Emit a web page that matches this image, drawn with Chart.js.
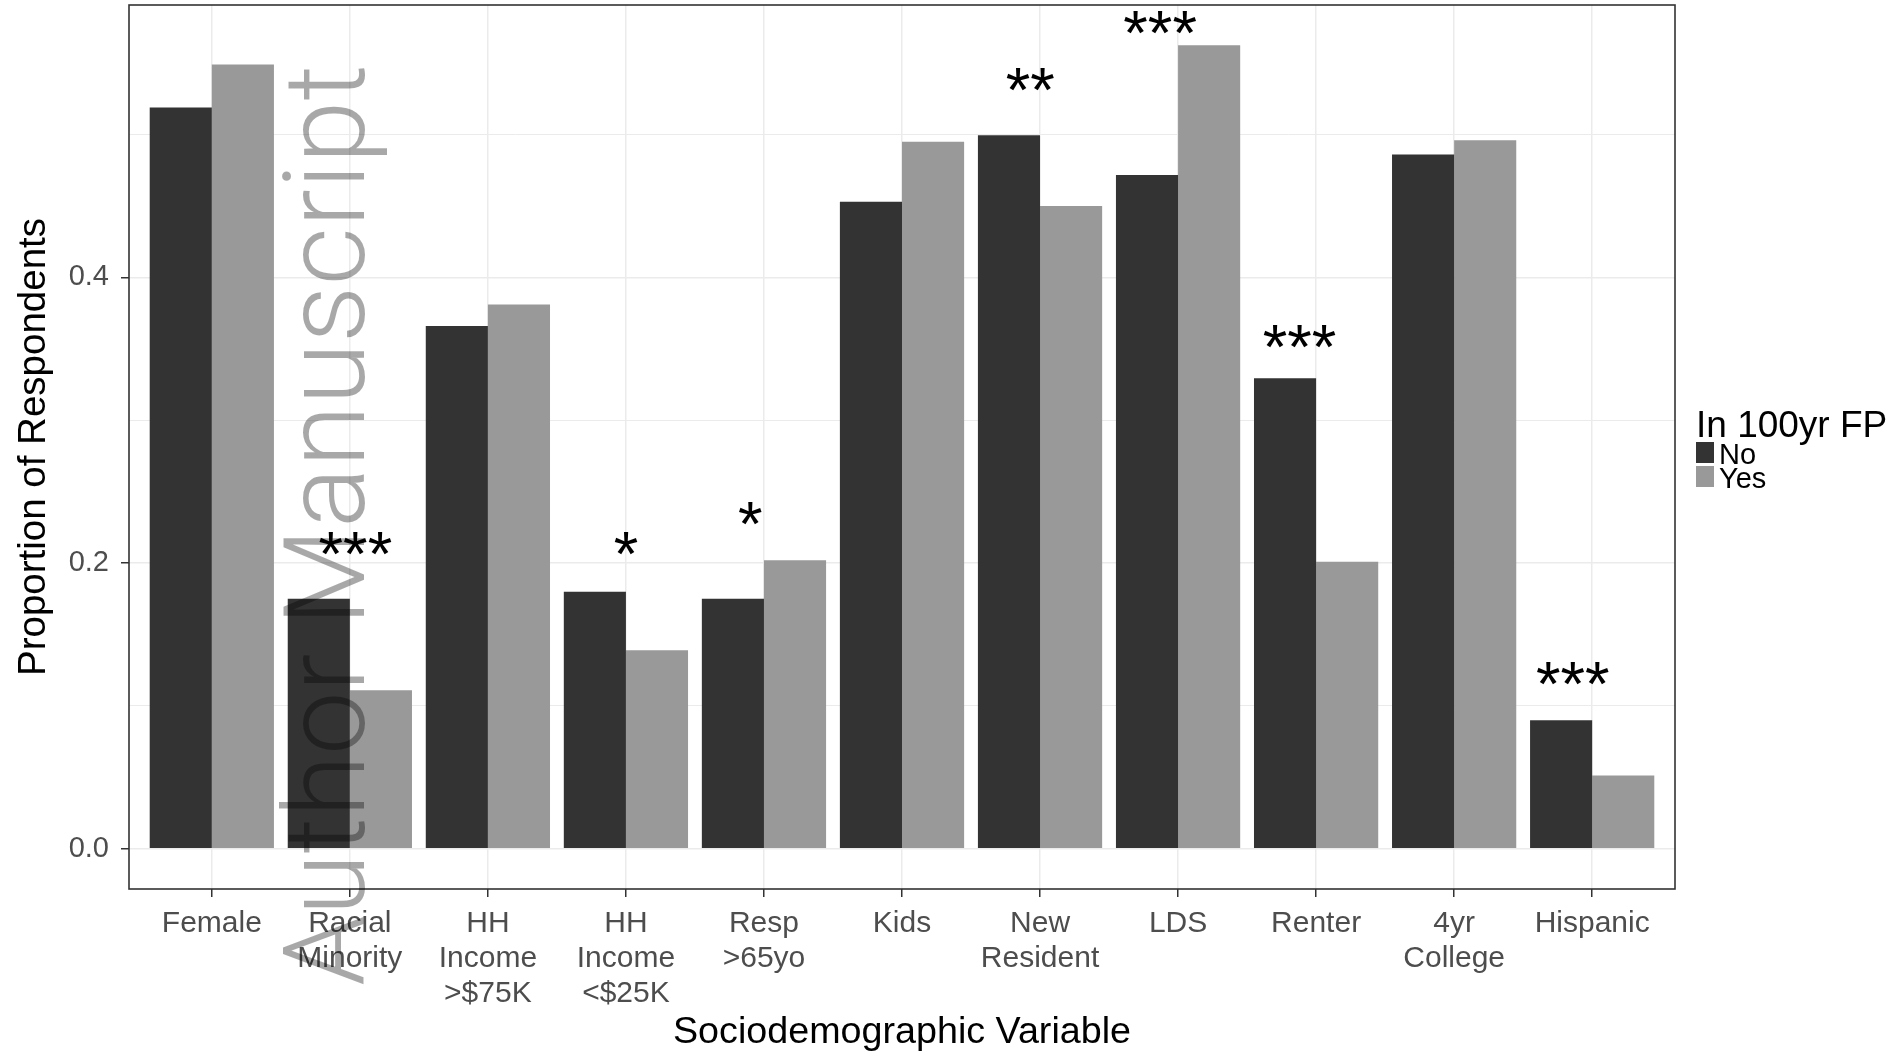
<!DOCTYPE html>
<html>
<head>
<meta charset="utf-8">
<script src="https://cdn.jsdelivr.net/npm/chart.js@4.4.1/dist/chart.umd.min.js"></script>
<style>
  html, body { margin: 0; padding: 0; background: #fff; overflow: hidden; }
  #wrap { width: 1903px; height: 1057px; position: relative; }
</style>
</head>
<body>
<div id="wrap"><canvas id="c"></canvas></div>
<script>
// Share of respondents with each attribute, split by 100-year floodplain residence
const categories = [
  ['Female'], ['Racial', 'Minority'], ['HH', 'Income', '>$75K'], ['HH', 'Income', '<$25K'],
  ['Resp', '>65yo'], ['Kids'], ['New', 'Resident'], ['LDS'], ['Renter'], ['4yr', 'College'], ['Hispanic']
];
const noValues  = [0.519, 0.175, 0.366, 0.180, 0.175, 0.453, 0.4995, 0.4717, 0.3295, 0.486, 0.090];
const yesValues = [0.549, 0.111, 0.381, 0.139, 0.202, 0.495, 0.450, 0.5626, 0.201, 0.496, 0.0514];
// Significance markers and where each is placed (category units, proportion)
const sigLabels = ['', '***', '', '*', '*', '', '**', '***', '***', '', '***'];
const sigX      = [null, 2.04, null, 4.0, 4.90, null, 6.93, 7.87, 8.88, null, 10.86];
const sigY      = [null, 0.214, null, 0.214, 0.235, null, 0.5385, 0.5785, 0.359, null, 0.123];
const seriesNames = ['No', 'Yes'];
const legendTitle = 'In 100yr FP';
const yGridValues = [0, 0.1, 0.2, 0.3, 0.4, 0.5];
const yLabelValues = [0, 0.2, 0.4];
const xTitle = 'Sociodemographic Variable';
const yTitle = 'Proportion of Respondents';
const watermark = 'Author Manuscript';

const FONT = '"Liberation Sans", Arial, Helvetica, sans-serif';
const maxVal = Math.max(...noValues, ...yesValues);
const isLabelled = v => yLabelValues.some(l => Math.abs(l - v) < 1e-9);

const overlay = {
  id: 'overlay',
  afterDatasetsDraw(chart) {
    const { ctx, chartArea: a, scales: { x, y } } = chart;
    ctx.save();
    // significance stars
    ctx.font = '63px ' + FONT;
    ctx.fillStyle = '#000';
    ctx.textAlign = 'center';
    ctx.textBaseline = 'alphabetic';
    sigLabels.forEach((s, i) => {
      if (!s) return;
      const m = ctx.measureText(s);
      const off = (m.actualBoundingBoxAscent - m.actualBoundingBoxDescent) / 2;
      ctx.fillText(s, x.getPixelForValue(sigX[i]), y.getPixelForValue(sigY[i]) + off);
    });
    // panel border
    ctx.strokeStyle = '#333333';
    ctx.lineWidth = 1.6;
    ctx.strokeRect(a.left, a.top, a.right - a.left, a.bottom - a.top);
    ctx.restore();
  },
  afterDraw(chart) {
    const { ctx, chartArea: a } = chart;
    ctx.save();
    // legend
    const lx = a.right + 21;
    ctx.textAlign = 'left';
    ctx.textBaseline = 'alphabetic';
    ctx.fillStyle = '#000';
    ctx.font = '37px ' + FONT;
    ctx.fillText(legendTitle, lx, 437);
    chart.data.datasets.forEach((ds, i) => {
      ctx.fillStyle = ds.backgroundColor;
      ctx.fillRect(lx, 442 + i * 24, 18, 21);
      ctx.fillStyle = '#000';
      ctx.font = '29px ' + FONT;
      ctx.fillText(ds.label, lx + 23, 464 + i * 24);
    });
    // rotated watermark
    ctx.translate(364, 986);
    ctx.rotate(-Math.PI / 2);
    let size = 120;
    ctx.font = '300 ' + size + 'px Roboto, "Liberation Sans", sans-serif';
    const w = ctx.measureText(watermark).width;
    size = size * 922 / w;
    ctx.font = '300 ' + size.toFixed(1) + 'px Roboto, "Liberation Sans", sans-serif';
    ctx.fillStyle = 'rgba(0,0,0,0.34)';
    ctx.fillText(watermark, 0, 0);
    ctx.restore();
  }
};

new Chart(document.getElementById('c'), {
  type: 'bar',
  data: {
    datasets: [
      { label: seriesNames[0], data: noValues.map((v, i) => ({ x: i + 1, y: v })), backgroundColor: '#333333' },
      { label: seriesNames[1], data: yesValues.map((v, i) => ({ x: i + 1, y: v })), backgroundColor: '#999999' }
    ]
  },
  options: {
    responsive: true,
    maintainAspectRatio: false,
    animation: false,
    events: [],
    layout: { padding: { top: 5, right: 228, left: 0, bottom: 0 } },
    datasets: { bar: { categoryPercentage: 0.9, barPercentage: 1.0, borderWidth: 0 } },
    plugins: { legend: { display: false }, tooltip: { enabled: false } },
    scales: {
      x: {
        type: 'linear',
        offset: false,
        min: 0.4,
        max: 11.6,
        afterBuildTicks: s => { s.ticks = categories.map((c, i) => ({ value: i + 1 })); },
        afterFit: s => { s.height = 168; s.paddingLeft = 0; s.paddingRight = 0; },
        border: { display: false },
        grid: { offset: false, color: '#ebebeb', lineWidth: 1.5, drawTicks: true, tickLength: 8, tickColor: '#333333', tickWidth: 1.5 },
        ticks: {
          autoSkip: false, maxRotation: 0, padding: 9,
          color: '#4d4d4d',
          font: { family: FONT, size: 30, lineHeight: 1.17 },
          callback: v => categories[Math.round(v) - 1]
        },
        title: { display: true, text: xTitle, color: '#000', font: { family: FONT, size: 37.7, lineHeight: 1.2 }, padding: { top: 0, bottom: 2 } }
      },
      y: {
        min: -0.05 * maxVal,
        max: 1.05 * maxVal,
        afterBuildTicks: s => { s.ticks = yGridValues.map(v => ({ value: v })); },
        afterFit: s => { s.width = 129; s.paddingTop = 0; s.paddingBottom = 0; },
        border: { display: false },
        grid: {
          color: '#ebebeb',
          lineWidth: c => (c.tick && isLabelled(c.tick.value)) ? 1.5 : 1,
          drawTicks: true, tickLength: 8,
          tickColor: c => (c.tick && isLabelled(c.tick.value)) ? '#333333' : 'rgba(0,0,0,0)',
          tickWidth: 1.5
        },
        ticks: {
          padding: 12,
          color: '#4d4d4d',
          font: { family: FONT, size: 29 },
          callback: v => isLabelled(v) ? v.toFixed(1) : ''
        },
        title: { display: true, text: yTitle, color: '#000', font: { family: FONT, size: 38.5, lineHeight: 1.2 }, padding: { top: 11, bottom: 0 } }
      }
    }
  },
  plugins: [overlay]
});
</script>
</body>
</html>
